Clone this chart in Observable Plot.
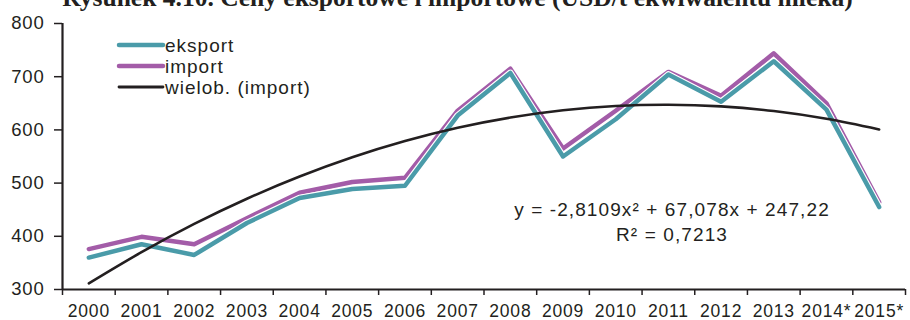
<!DOCTYPE html>
<html>
<head>
<meta charset="utf-8">
<script src="https://cdn.jsdelivr.net/npm/d3@7"></script>
<script src="https://cdn.jsdelivr.net/npm/@observablehq/plot@0.6"></script>
<style>
  html, body { margin: 0; padding: 0; background: #fff; }
  #wrap { position: relative; width: 910px; height: 320px; overflow: hidden; }
  #overlay { position: absolute; left: 0; top: 0; }
  #chart g[aria-label="x-axis tick label"] text { letter-spacing: 0.8px; }
  #chart g[aria-label="y-axis tick label"] text { letter-spacing: 0.8px; }
  #chart g[aria-label="text"] text { letter-spacing: 1.1px; }
</style>
</head>
<body>
<div id="wrap">
  <div id="chart"></div>
</div>
<script>
const title = "Rysunek 4.10. Ceny eksportowe i importowe (USD/t ekwiwalentu mleka)";
const categories = ["2000","2001","2002","2003","2004","2005","2006","2007","2008","2009","2010","2011","2012","2013","2014*","2015*"];
const eksport = [360, 385, 365, 425, 472, 489, 495, 627, 707, 550, 620, 704, 653, 729, 638, 455];
const importV = [376, 399, 385, 434, 482, 502, 510, 636, 715, 565, 636, 709, 664, 744, 650, 464];
const trend   = [311.5, 370.1, 423.2, 470.6, 512.3, 548.5, 579.0, 604.0, 623.2, 636.9, 645.0, 647.4, 644.2, 635.4, 620.9, 600.9];
const yTicks = [300, 400, 500, 600, 700, 800];
const seriesNames = ["eksport", "import", "wielob. (import)"];
const colors = ["#4a9ba9", "#a35ca8", "#231f20"];
const equation = "y = -2,8109x² + 67,078x + 247,22";
const rSquared = "R² = 0,7213";

const rows = categories.map((c, i) => ({i, c, eksport: eksport[i], imp: importV[i], trend: trend[i]}));
const ink = "#231f20";
const font = "Liberation Sans, Arial, sans-serif";

const plot = Plot.plot({
  width: 910, height: 320,
  marginLeft: 62, marginRight: 5, marginTop: 23, marginBottom: 31,
  style: {fontFamily: font, color: ink, background: "#fff", overflow: "visible"},
  x: {type: "linear", domain: [-0.5, categories.length - 0.5]},
  y: {domain: [300, 800]},
  marks: [
    Plot.axisY({ticks: yTicks, tickSize: 8, tickPadding: 10, fontSize: 18.5, stroke: ink, strokeWidth: 1.5, fill: ink, label: null}),
    Plot.axisX({ticks: d3.range(-0.5, categories.length, 1), tickSize: 6, tickFormat: () => "", stroke: ink, strokeWidth: 1.5, label: null}),
    Plot.axisX({ticks: d3.range(categories.length), tickSize: 0, tickPadding: 15, tickFormat: i => categories[i], fontSize: 17.5, fill: ink, label: null}),
    Plot.ruleX([-0.5], {stroke: ink, strokeWidth: 2.2}),
    Plot.ruleY([300], {stroke: ink, strokeWidth: 2.2}),
    Plot.line(rows, {x: "i", y: "imp", stroke: "#fff", strokeWidth: 6.8}),
    Plot.line(rows, {x: "i", y: "imp", stroke: colors[1], strokeWidth: 4.5}),
    Plot.line(rows, {x: "i", y: "eksport", stroke: "#fff", strokeWidth: 6.8}),
    Plot.line(rows, {x: "i", y: "eksport", stroke: colors[0], strokeWidth: 4.5}),
    Plot.line(rows, {x: "i", y: "trend", stroke: colors[2], strokeWidth: 2.6, curve: "catmull-rom"}),
    Plot.text([equation], {frameAnchor: "top-left", dx: 671.5 - 62, dy: 202 - 23, text: d => d, textAnchor: "middle", fontSize: 19, fill: ink}),
    Plot.text([rSquared], {frameAnchor: "top-left", dx: 671.5 - 62, dy: 227 - 23, text: d => d, textAnchor: "middle", fontSize: 19, fill: ink})
  ]
});
document.getElementById("chart").appendChild(plot);

// Overlay: title (cut at top like the reference) and legend
const lg = d3.select("#wrap").append("svg").attr("id", "overlay").attr("width", 910).attr("height", 320)
  .style("pointer-events", "none");

const titleFont = '"Liberation Serif", "Times New Roman", serif';
const ctx = document.createElement("canvas").getContext("2d");
ctx.font = `bold 20px ${titleFont}`;
const tw = ctx.measureText(title).width;
const titleSize = 20 * 791 / tw;
lg.append("text").attr("x", 457.5).attr("y", 5.5).attr("text-anchor", "middle")
  .attr("font-family", titleFont).attr("font-weight", "bold").attr("font-size", titleSize)
  .attr("fill", ink).text(title);

const ly = [45, 66, 87];
seriesNames.forEach((name, k) => {
  lg.append("line").attr("x1", 119).attr("x2", 163).attr("y1", ly[k]).attr("y2", ly[k])
    .attr("stroke", colors[k]).attr("stroke-width", k === 2 ? 2.8 : 4.5).attr("stroke-linecap", "round");
  lg.append("text").attr("x", 165).attr("y", ly[k]).attr("dy", "0.35em")
    .attr("font-family", font).attr("font-size", 19).attr("fill", ink)
    .style("letter-spacing", "1px").text(name);
});
</script>
</body>
</html>
